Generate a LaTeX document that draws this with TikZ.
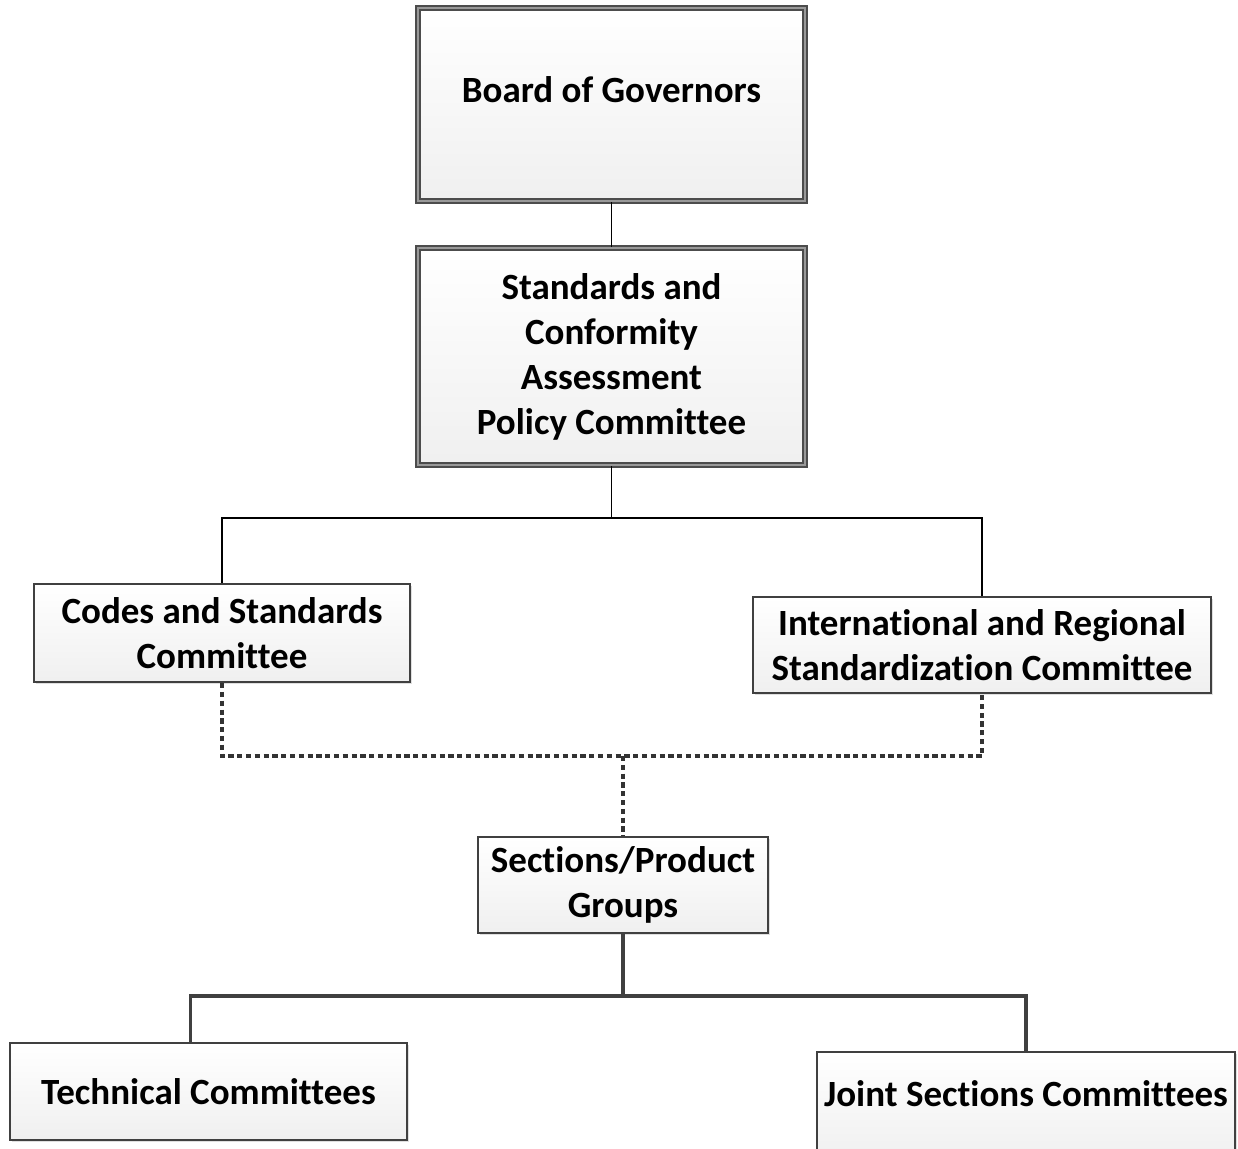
\documentclass[tikz,border=0pt]{standalone}
\usepackage{fontspec}
\setmainfont[Ligatures={NoCommon}]{Carlito}
\usetikzlibrary{shadows}

\tikzset{
  box/.style={draw=black!75, line width=1.1pt, top color=white, bottom color=black!6,
    drop shadow={shadow xshift=1.2pt, shadow yshift=-1.2pt, opacity=0.25},
    inner sep=0pt, align=center, font=\fontsize{18.5}{22.5}\selectfont\bfseries},
  bigbox/.style={box, draw=black!70, double=black!40, double distance=1pt, line width=1.2pt},
  link/.style={draw=black, line width=0.8pt},
  trunk/.style={draw=black!75, line width=1.7pt},
  duelink/.style={draw=black!80, line width=1.8pt, dash pattern=on 2.6pt off 1.8pt}
}

\begin{document}
\begin{tikzpicture}[x=0.5pt, y=-0.5pt]
\useasboundingbox (0,0) rectangle (1238,1148);
% boxes
\node[bigbox, minimum width=193.5pt, minimum height=96.5pt, text depth=15pt] (board) at (611.5,104.5) {Board of Governors};
\node[bigbox, minimum width=193.5pt, minimum height=108.5pt] (scapc) at (611.5,356.5)
  {Standards and\\Conformity\\Assessment\\Policy Committee};
\node[box, minimum width=188pt, minimum height=49pt] (codes) at (222,633) {Codes and Standards\\Committee};
\node[box, minimum width=229pt, minimum height=48pt] (intl) at (982,645)
  {International and Regional\\Standardization Committee};
\node[box, minimum width=145pt, minimum height=48pt] (sections) at (623,885) {Sections/Product\\Groups};
\node[box, minimum width=198.5pt, minimum height=48.5pt] (tech) at (208.5,1091.5) {Technical Committees};
\node[box, minimum width=209pt, minimum height=54pt, text depth=12pt] (joint) at (1026,1106) {Joint Sections Committees};
% branch points
\coordinate (split1) at (611.5,518);
\coordinate (join) at (623,756);
\coordinate (split2) at (623,996);
% connectors
\draw[link] (board) -- (scapc);
\draw[link] (scapc) -- (split1) -| (codes);
\draw[link] (split1) -| (intl);
\draw[duelink] (codes) |- (join) -| (intl);
\draw[duelink] (join) -- (sections);
\draw[trunk] (sections) -- (split2);
\draw[trunk] ([xshift=-9pt]tech.north) |- (split2) -| (joint);
\end{tikzpicture}
\end{document}
